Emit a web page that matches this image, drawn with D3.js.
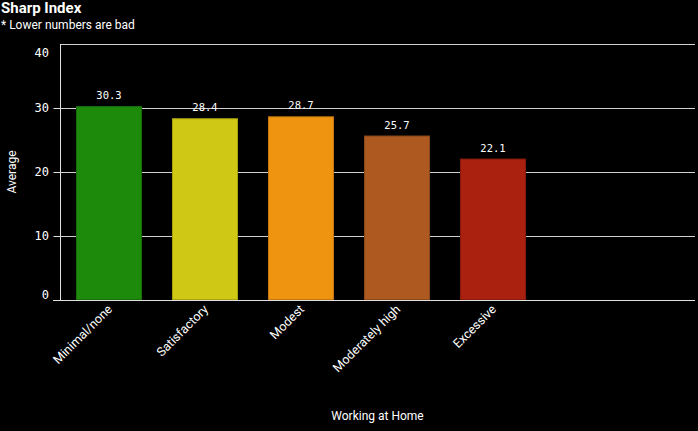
<!DOCTYPE html>
<html>
<head>
<meta charset="utf-8">
<script src="https://cdn.jsdelivr.net/npm/d3@7"></script>
<style>
  body { margin: 0; background: #000; }
  svg { display: block; background: #000; }
  .title { font-family: "Roboto", sans-serif; font-weight: bold; font-size: 15px; fill: #fff; }
  .subtitle { font-family: "Roboto", sans-serif; font-size: 12px; fill: #fff; }
  .axis-title { font-family: "Roboto", sans-serif; font-size: 12px; fill: #fff; }
  .tick-label { font-family: "DejaVu Sans Mono", monospace; font-size: 12px; fill: #fff; }
  .cat-label { font-family: "Roboto", sans-serif; font-size: 12.5px; fill: #fff; }
  .value-label { font-family: "DejaVu Sans Mono", monospace; font-size: 10.5px; fill: #fff; }
</style>
</head>
<body>
<div id="chart"></div>
<script>
// chart data
const categories = ["Minimal/none", "Satisfactory", "Modest", "Moderately high", "Excessive"];
const averages = [30.3, 28.4, 28.7, 25.7, 22.1];
const barColors = ["#1e8a0c", "#cfc915", "#ef9410", "#ad591f", "#aa220f"];
const yTicks = [0, 10, 20, 30, 40];

const width = 698, height = 431;
const margin = [44, 131, 60, 3]; // top, bottom, left, right

const svg = d3.select("#chart").append("svg")
    .attr("width", width)
    .attr("height", height);

const plotBottom = height - margin[1];
const plotRight = width - margin[3];

// band scale leaves empty room on the right like the original
const scaleX = d3.scaleBand()
    .domain(categories)
    .range([margin[2] + 1, margin[2] + 1 + 96 * categories.length])
    .paddingInner(0.3125)
    .paddingOuter(0.156);

const scaleY = d3.scaleLinear()
    .domain([0, 40])
    .range([plotBottom, margin[0]]);

// titles
svg.append("text").attr("class", "title").attr("x", 1).attr("y", 13).text("Sharp Index");
svg.append("text").attr("class", "subtitle").attr("x", 1).attr("y", 29).text("* Lower numbers are bad");

// gridlines
svg.append("g")
    .selectAll("line")
    .data(yTicks.filter(d => d > 0))
    .join("line")
    .attr("x1", margin[2])
    .attr("x2", plotRight)
    .attr("y1", d => Math.round(scaleY(d)) + 0.5)
    .attr("y2", d => Math.round(scaleY(d)) + 0.5)
    .attr("stroke", "#d0d0d0")
    .attr("stroke-width", 1);

// y axis
const axisY = svg.append("g")
    .attr("transform", `translate(${margin[2] + 0.5},0)`)
    .call(d3.axisLeft(scaleY).tickValues(yTicks.filter(d => d < 40)).tickSize(7).tickFormat(""));
axisY.select(".domain").attr("stroke", "#e0e0e0").attr("d", `M0,${margin[0]}V${plotBottom}`);
axisY.selectAll(".tick line").attr("stroke", "#e0e0e0");

// y tick labels, end labels nudged inside the plot
svg.append("g")
    .selectAll("text")
    .data(yTicks)
    .join("text")
    .attr("class", "tick-label")
    .attr("text-anchor", "end")
    .attr("x", 49)
    .attr("y", d => scaleY(d))
    .attr("dy", d => d === 40 ? "1.1em" : d === 0 ? "-0.1em" : "0.35em")
    .text(d => d);

// x axis line
svg.append("line")
    .attr("x1", 53)
    .attr("x2", plotRight)
    .attr("y1", plotBottom + 0.5)
    .attr("y2", plotBottom + 0.5)
    .attr("stroke", "#e0e0e0");

// bars
svg.append("g")
    .selectAll("rect")
    .data(averages)
    .join("rect")
    .attr("x", (d, i) => scaleX(categories[i]) + 0.5)
    .attr("y", d => scaleY(d) + 0.5)
    .attr("width", scaleX.bandwidth() - 1)
    .attr("height", d => plotBottom - scaleY(d) - 1)
    .attr("fill", (d, i) => barColors[i])
    .attr("stroke", (d, i) => d3.color(barColors[i]).darker(0.6))
    .attr("stroke-width", 1);

// value labels
svg.append("g")
    .selectAll("text")
    .data(averages)
    .join("text")
    .attr("class", "value-label")
    .attr("text-anchor", "middle")
    .attr("x", (d, i) => scaleX(categories[i]) + scaleX.bandwidth() / 2)
    .attr("y", d => scaleY(d) - 7)
    .text(d => d.toFixed(1));

// category labels rotated -45
svg.append("g")
    .selectAll("text")
    .data(categories)
    .join("text")
    .attr("class", "cat-label")
    .attr("text-anchor", "end")
    .attr("transform", d => `translate(${scaleX(d) + scaleX.bandwidth() / 2 + 4},${plotBottom + 10}) rotate(-45)`)
    .text(d => d);

// axis titles
svg.append("text")
    .attr("class", "axis-title")
    .attr("text-anchor", "middle")
    .attr("x", (margin[2] + plotRight) / 2)
    .attr("y", 420)
    .text("Working at Home");

svg.append("text")
    .attr("class", "axis-title")
    .attr("text-anchor", "middle")
    .attr("transform", `translate(16,${(margin[0] + plotBottom) / 2}) rotate(-90)`)
    .text("Average");
</script>
</body>
</html>
